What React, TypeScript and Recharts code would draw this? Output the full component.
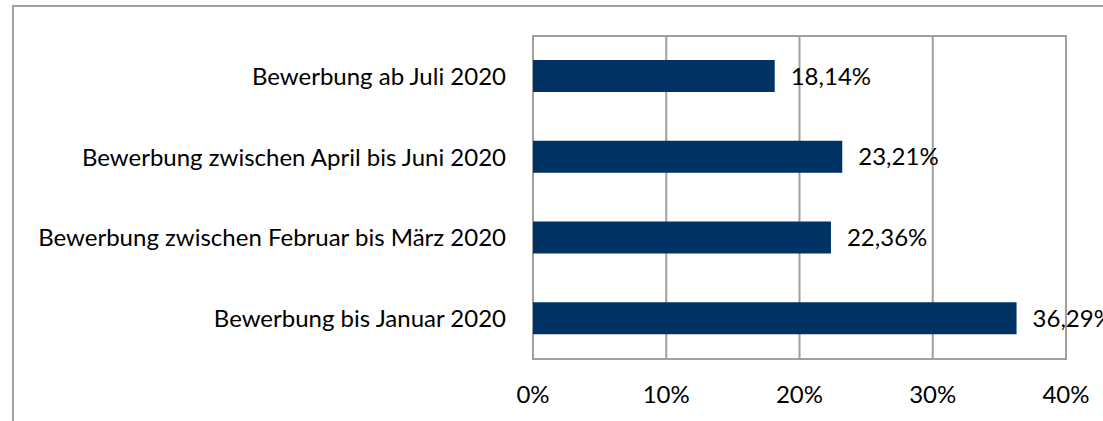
import {
  BarChart,
  Bar,
  XAxis,
  YAxis,
  CartesianGrid,
  ReferenceArea,
  LabelList,
} from "recharts";

const categories = [
  "Bewerbung ab Juli 2020",
  "Bewerbung zwischen April bis Juni 2020",
  "Bewerbung zwischen Februar bis März 2020",
  "Bewerbung bis Januar 2020",
];
const shares = [18.14, 23.21, 22.36, 36.29];
const xTicks = [0, 10, 20, 30, 40];

const data = categories.map((name, i) => ({ name, value: shares[i] }));

const font = "Lato, 'Noto Sans', sans-serif";
const gridColor = "#a0a0a0";
const fmtPct = (v: number) => `${v.toFixed(2).replace(".", ",")}%`;

export default function App() {
  return (
    <div
      style={{
        position: "absolute",
        left: 0,
        top: 0,
        width: 1103,
        height: 421,
        overflow: "hidden",
        background: "#fff",
      }}
    >
      <div
        style={{
          position: "absolute",
          left: 12,
          top: 5,
          width: 1300,
          height: 600,
          border: `2px solid ${gridColor}`,
        }}
      />
      <div style={{ position: "absolute", left: 0, top: 0 }}>
        <BarChart
          width={1103}
          height={421}
          data={data}
          layout="vertical"
          margin={{ top: 36, right: 37, bottom: 22, left: 0 }}
        >
          <CartesianGrid
            vertical
            horizontal={false}
            stroke={gridColor}
            strokeWidth={2}
          />
          <ReferenceArea
            x1={0}
            x2={40}
            fill="none"
            stroke={gridColor}
            strokeWidth={2}
            fillOpacity={0}
          />
          <XAxis
            type="number"
            domain={[0, 40]}
            ticks={xTicks}
            tickFormatter={(v) => `${v}%`}
            axisLine={false}
            tickLine={false}
            tickSize={0}
            tickMargin={27}
            height={40}
            interval={0}
            tick={{ fontSize: 24, fill: "#000", fontFamily: font }}
          />
          <YAxis
            type="category"
            dataKey="name"
            width={533}
            axisLine={false}
            tickLine={false}
            tickSize={0}
            tickMargin={27}
            interval={0}
            tick={{ fontSize: 24, fill: "#000", fontFamily: font }}
          />
          <Bar dataKey="value" fill="#003264" barSize={32} isAnimationActive={false}>
            <LabelList
              dataKey="value"
              position="right"
              offset={16}
              formatter={(v: any) => fmtPct(Number(v))}
              style={{ fontSize: 24, fill: "#000", fontFamily: font }}
            />
          </Bar>
        </BarChart>
      </div>
    </div>
  );
}
